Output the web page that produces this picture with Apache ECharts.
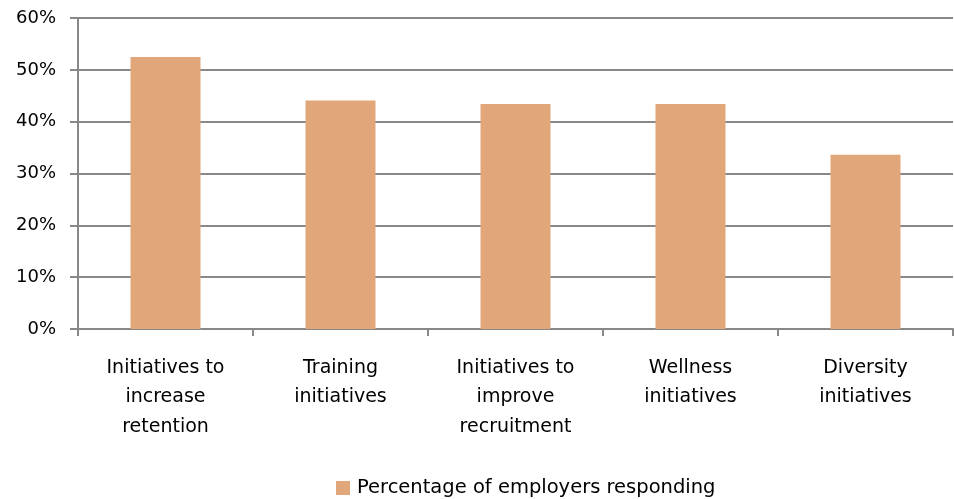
<!DOCTYPE html>
<html><head><meta charset="utf-8">
<script src="https://cdn.jsdelivr.net/npm/echarts@6/dist/echarts.min.js"></script>
<style>html,body{margin:0;padding:0;background:#fff}#c{width:954px;height:499px}</style>
</head><body><div id="c"></div>
<script>
const categories = ["Initiatives to\nincrease\nretention", "Training\ninitiatives", "Initiatives to\nimprove\nrecruitment", "Wellness\ninitiatives", "Diversity\ninitiatives"];
const values = [52.5, 44.1, 43.4, 43.4, 33.6];
const seriesName = "Percentage of employers responding";
const chart = echarts.init(document.getElementById('c'));
const font = "'DejaVu Sans', sans-serif";
chart.setOption({
  animation: false,
  grid: {left: 78, right: 1, top: 18, bottom: 170},
  legend: {top: 473, left: 331, itemWidth: 14, itemHeight: 14, itemGap: 8,
    textStyle: {fontFamily: font, fontSize: 19.5, color: '#000', padding: [0, 0, 0, 2]},
    data: [{name: seriesName, icon: 'rect'}]},
  xAxis: {type: 'category', data: categories,
    axisLine: {lineStyle: {color: '#888', width: 2}},
    axisTick: {show: true, length: 7, lineStyle: {color: '#888', width: 2}},
    axisLabel: {fontFamily: font, fontSize: 19, color: '#000', lineHeight: 29.5, margin: 24}},
  yAxis: {type: 'value', min: 0, max: 60, interval: 10,
    axisLine: {show: true, lineStyle: {color: '#888', width: 2}},
    axisTick: {show: true, length: 8, lineStyle: {color: '#888', width: 2}},
    splitLine: {lineStyle: {color: '#888', width: 2}},
    axisLabel: {formatter: '{value}%', fontFamily: font, fontSize: 18, color: '#000', margin: 22}},
  series: [{name: seriesName, type: 'bar', data: values, barWidth: '40%',
    itemStyle: {color: '#E1A77A'}}]
});
</script></body></html>
